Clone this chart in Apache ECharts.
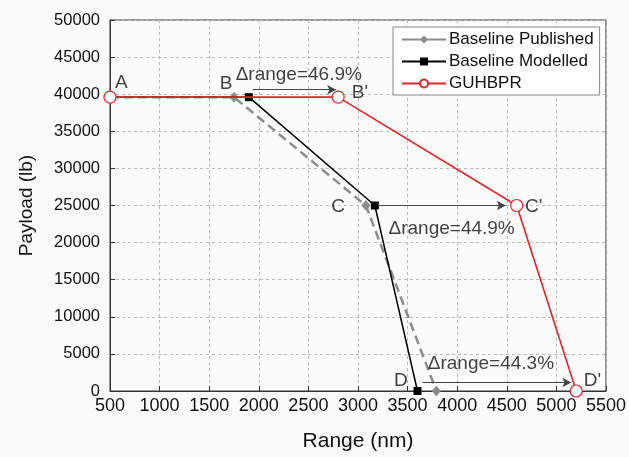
<!DOCTYPE html>
<html>
<head>
<meta charset="utf-8">
<script src="https://cdn.jsdelivr.net/npm/echarts@6/dist/echarts.min.js"></script>
<style>
html,body{margin:0;padding:0;background:#fbfbfb;}
#chart{width:629px;height:457px;}
</style>
</head>
<body>
<div id="chart"></div>
<script>
// ---- data ----
var seriesNames = ['Baseline Published', 'Baseline Modelled', 'GUHBPR'];
var publishedRange = [500, 1750, 3080, 3790];
var publishedPayload = [39600, 39600, 25000, 0];
var modelledRange = [500, 1900, 3170, 3600];
var modelledPayload = [39600, 39600, 25000, 0];
var guhbprRange = [500, 2800, 4600, 5200];
var guhbprPayload = [39600, 39600, 25000, 0];

// arrows (start range, end range, payload level)
var arrowStart = [1940, 3200, 3650];
var arrowEnd = [2780, 4490, 5150];
var arrowLevel = [40600, 25000, 1150];

// annotation texts and anchor points (data units)
var annText = ['A', 'B', 'B\'', 'C', 'C\'', 'D', 'D\'', '\u0394range=46.9%', '\u0394range=44.9%', '\u0394range=44.3%'];
var annRange = [615, 1670, 3020, 2800, 4772, 3432, 5364, 2403, 3944, 4340];
var annPayload = [41475, 41340, 40214, 24800, 24800, 1340, 1340, 42627, 21850, 3619];

var xTicks = [500, 1000, 1500, 2000, 2500, 3000, 3500, 4000, 4500, 5000, 5500];
var yTicks = [0, 5000, 10000, 15000, 20000, 25000, 30000, 35000, 40000, 45000, 50000];

function pairs(xs, ys) { return xs.map(function (x, i) { return [x, ys[i]]; }); }

var FONT = 'Liberation Sans, Arial, sans-serif';
var chart = echarts.init(document.getElementById('chart'));

var arrowData = arrowStart.map(function (s, i) {
  return [{ coord: [s, arrowLevel[i]] }, { coord: [arrowEnd[i], arrowLevel[i]] }];
});

var option = {
  backgroundColor: '#fbfbfb',
  animation: false,
  textStyle: { fontFamily: FONT },
  grid: { left: 110, right: 21, top: 20, bottom: 64, show: true, borderColor: '#333', borderWidth: 1, backgroundColor: 'transparent' },
  legend: {
    orient: 'vertical',
    left: 393, top: 27,
    backgroundColor: '#ffffff',
    borderColor: '#888', borderWidth: 1,
    padding: [4, 6, 3, 8],
    itemGap: 5,
    itemWidth: 44, itemHeight: 10,
    textStyle: { fontSize: 17, color: '#111', fontFamily: FONT, padding: [0, 0, 0, -2] },
    data: [
      { name: seriesNames[0], lineStyle: { type: 'solid' } },
      { name: seriesNames[1] },
      { name: seriesNames[2] }
    ]
  },
  xAxis: {
    type: 'value', min: 500, max: 5500, interval: 500,
    name: 'Range (nm)', nameLocation: 'middle', nameGap: 40,
    nameTextStyle: { fontSize: 21, color: '#111', fontFamily: FONT },
    axisLine: { show: true, onZero: false, lineStyle: { color: '#333', width: 1 } },
    axisTick: { show: true, inside: true, length: 5, lineStyle: { color: '#333' } },
    axisLabel: { fontSize: 18, color: '#111', margin: 6, fontFamily: FONT,
      formatter: function (v) { return xTicks.indexOf(v) >= 0 ? String(v) : ''; } },
    splitLine: { show: true, lineStyle: { color: '#bbb', type: [3, 3], width: 1 } }
  },
  yAxis: {
    type: 'value', min: 0, max: 50000, interval: 5000,
    name: 'Payload (lb)', nameLocation: 'middle', nameGap: 74,
    nameTextStyle: { fontSize: 19, color: '#111', fontFamily: FONT },
    axisLine: { show: true, onZero: false, lineStyle: { color: '#333', width: 1 } },
    axisTick: { show: true, inside: true, length: 5, lineStyle: { color: '#333' } },
    axisLabel: { fontSize: 16.5, color: '#111', margin: 10, fontFamily: FONT,
      formatter: function (v) { return yTicks.indexOf(v) >= 0 ? String(v) : ''; } },
    splitLine: { show: true, lineStyle: { color: '#bbb', type: [3, 3], width: 1 } }
  },
  series: [
    {
      name: seriesNames[0], type: 'line', z: 2,
      data: pairs(publishedRange, publishedPayload),
      symbol: 'diamond', symbolSize: [9, 11], showAllSymbol: true,
      lineStyle: { color: '#8c8c8c', width: 2.5, type: [9, 5] },
      itemStyle: { color: '#8c8c8c', borderWidth: 0 }
    },
    {
      name: seriesNames[1], type: 'line', z: 3,
      data: pairs(modelledRange, modelledPayload),
      symbol: 'rect', symbolSize: 8, showAllSymbol: true,
      lineStyle: { color: '#000', width: 1.5 },
      itemStyle: { color: '#000', borderWidth: 0 },
      markLine: {
        silent: true, animation: false,
        symbol: ['none', 'arrow'], symbolSize: [7, 9],
        label: { show: false },
        lineStyle: { color: '#444', width: 1, type: 'solid' },
        data: arrowData
      }
    },
    {
      name: seriesNames[2], type: 'line', z: 4,
      data: pairs(guhbprRange, guhbprPayload),
      symbol: 'circle', symbolSize: 12, showAllSymbol: true,
      lineStyle: { color: '#e3252b', width: 1.6 },
      itemStyle: { color: '#ffffff', borderColor: '#e3252b', borderWidth: 1.2 }
    },
    {
      name: 'annotations', type: 'scatter', z: 6, silent: true,
      symbolSize: 0,
      data: annText.map(function (t, i) { return { value: [annRange[i], annPayload[i]], name: t }; }),
      label: {
        show: true, position: 'inside', color: '#111', fontSize: 19, fontFamily: FONT,
        formatter: function (p) { return p.name; }
      },
      itemStyle: { color: 'transparent' }
    }
  ]
};
chart.setOption(option);
</script>
</body>
</html>
